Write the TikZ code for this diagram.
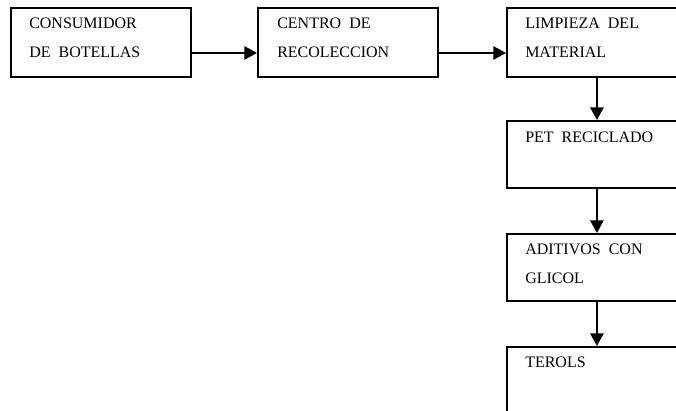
\documentclass[tikz,border=0pt]{standalone}
\usepackage{fontspec}
\setmainfont{Liberation Serif}
\usetikzlibrary{arrows.meta, positioning}

\begin{document}
\begin{tikzpicture}[x=0.75pt, y=-0.75pt,
        caja/.style={draw, line width=1.4pt, anchor=north west, inner sep=0pt,
                minimum width=135pt, minimum height=51.75pt},
        texto/.style={anchor=base west, align=left, inner sep=0pt,
                font=\fontsize{12}{21.75}\selectfont},
        flecha/.style={draw, line width=1.4pt, -{Triangle[length=9.5pt, width=10pt]}}
        ]
        \clip (0,0) rectangle (676,411);

        \node[caja] (consumidor) at (10, 7)   {};
        \node[caja] (centro)     at (257, 7)  {};
        \node[caja] (limpieza)   at (506, 7)  {};
        \node[caja, minimum height=50.25pt] (pet)      at (506, 120) {};
        \node[caja, minimum height=50.25pt] (aditivos) at (506, 233) {};
        \node[caja] (terols)     at (506, 346) {};

        % textos de las cajas (base = ultima linea)
        \node[texto] (tconsumidor) at (29, 57)  {CONSUMIDOR\\DE\ \ BOTELLAS};
        \node[texto] (tcentro)     at (277, 57) {CENTRO\ \ DE\\RECOLECCION};
        \node[texto] (tlimpieza)   at (525, 57) {LIMPIEZA\ \ DEL\\MATERIAL};
        \node[texto] (tpet)        at (525, 142) {PET\ \ RECICLADO};
        \node[texto] (taditivos)   at (525, 283) {ADITIVOS\ \ CON\\GLICOL};
        \node[texto] (tterols)     at (525, 367) {TEROLS};

        % flechas
        \draw[flecha] ([yshift=-7.9pt]consumidor.east) -- ([yshift=-7.9pt]centro.west);
        \draw[flecha] ([yshift=-7.9pt]centro.east) -- ([yshift=-7.9pt]limpieza.west);
        \draw[flecha] (limpieza.south) -- (pet.north);
        \draw[flecha] (pet.south) -- (aditivos.north);
        \draw[flecha] (aditivos.south) -- (terols.north);
    \end{tikzpicture}
\end{document}
